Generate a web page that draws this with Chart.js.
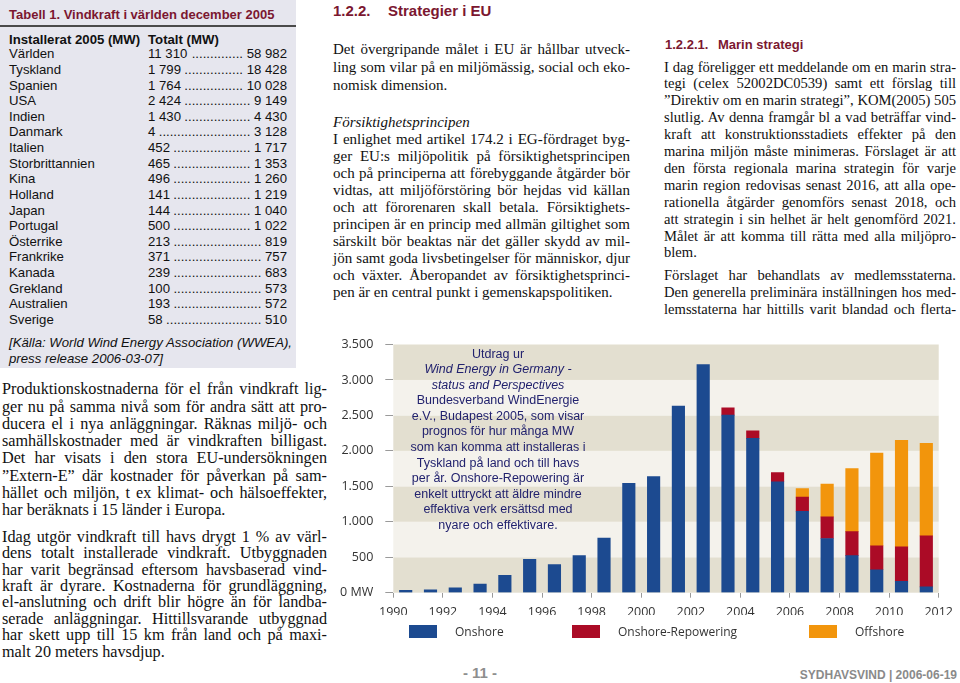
<!DOCTYPE html>
<html lang="sv">
<head>
<meta charset="utf-8">
<script src="https://cdn.jsdelivr.net/npm/chart.js@4.4.1/dist/chart.umd.min.js"></script>
<style>
  html, body { margin:0; padding:0; }
  body { width:960px; height:683px; position:relative; overflow:hidden; background:#fff; color:#111; }
  .abs { position:absolute; }
  .sans { font-family:"Liberation Sans", Arial, sans-serif; }
  .serif { font-family:"Liberation Serif", "Times New Roman", serif; }
  .box { left:0; top:0; width:296px; height:368px; background:#e6e6ee; }
  .ttl { left:9px; top:7px; font:bold 13px "Liberation Sans", Arial, sans-serif; color:#7b1730; white-space:nowrap; }
  .rule { left:0; top:25px; width:296px; height:2px; background:#4a4a4a; }
  .row { position:absolute; left:9px; width:278px; height:16px; line-height:16px; font:13.2px "Liberation Sans", Arial, sans-serif; color:#111; white-space:nowrap; }
  .row .c2 { position:absolute; left:139px; right:0; top:0; display:flex; }
  .row .dots { flex:1; overflow:hidden; direction:rtl; text-align:left; }
  .col div { white-space:nowrap; text-align:justify; text-align-last:justify; }
  .col div.l { text-align-last:left; }
  .h { font-weight:bold; color:#7b1730; white-space:nowrap; }
  #chartWrap { left:330px; top:325px; width:630px; height:300px; }
  .note { left:393px; top:346.5px; width:210px; text-align:center; font:12.5px "Liberation Sans", Arial, sans-serif; line-height:15.6px; color:#22226e; z-index:2; white-space:nowrap; }
  .lg { position:absolute; top:625px; height:13px; }
  .lgt { position:absolute; top:622px; font:12px "Open Sans", sans-serif; color:#333; line-height:19px; white-space:nowrap; }
</style>
</head>
<body>

<!-- Tabell 1 -->
<div class="abs box"></div>
<div class="abs ttl">Tabell 1. Vindkraft i världen december 2005</div>
<div class="abs rule"></div>
<div id="table"></div>
<div class="abs sans" style="left:9px;top:335px;font-size:13.2px;font-style:italic;line-height:16px;white-space:nowrap;color:#111">[Källa: World Wind Energy Association (WWEA),<br>press release 2006-03-07]</div>

<!-- Left column text -->
<div class="abs col serif" style="left:2px;width:325px;top:381.3px;font-size:16.2px;line-height:17.3px">
  <div>Produktionskostnaderna för el från vindkraft lig-</div>
  <div>ger nu på samma nivå som för andra sätt att pro-</div>
  <div>ducera el i nya anläggningar. Räknas miljö- och</div>
  <div>samhällskostnader med är vindkraften billigast.</div>
  <div>Det har visats i den stora EU-undersökningen</div>
  <div>”Extern-E” där kostnader för påverkan på sam-</div>
  <div>hället och miljön, t ex klimat- och hälsoeffekter,</div>
  <div class="l">har beräknats i 15 länder i Europa.</div>
</div>
<div class="abs col serif" style="left:2px;width:325px;top:528.8px;font-size:16.2px;line-height:16.4px">
  <div>Idag utgör vindkraft till havs drygt 1 % av värl-</div>
  <div>dens totalt installerade vindkraft. Utbyggnaden</div>
  <div>har varit begränsad eftersom havsbaserad vind-</div>
  <div>kraft är dyrare. Kostnaderna för grundläggning,</div>
  <div>el-anslutning och drift blir högre än för landba-</div>
  <div>serade anläggningar. Hittillsvarande utbyggnad</div>
  <div>har skett upp till 15 km från land och på maxi-</div>
  <div class="l">malt 20 meters havsdjup.</div>
</div>

<!-- Middle column -->
<div class="abs sans h" style="left:333px;top:2px;font-size:15px;line-height:18px">1.2.2.</div>
<div class="abs sans h" style="left:388px;top:2px;font-size:15px;line-height:18px">Strategier i EU</div>
<div class="abs col serif" style="left:333px;width:297px;top:39.5px;font-size:15px;line-height:18px">
  <div>Det övergripande målet i EU är hållbar utveck-</div>
  <div>ling som vilar på en miljömässig, social och eko-</div>
  <div class="l">nomisk dimension.</div>
</div>
<div class="abs col serif" style="left:333px;width:297px;top:113.5px;font-size:15px;line-height:17px">
  <div class="l" style="font-style:italic">Försiktighetsprincipen</div>
  <div>I enlighet med artikel 174.2 i EG-fördraget byg-</div>
  <div>ger EU:s miljöpolitik på försiktighetsprincipen</div>
  <div>och på principerna att förebyggande åtgärder bör</div>
  <div>vidtas, att miljöförstöring bör hejdas vid källan</div>
  <div>och att förorenaren skall betala. Försiktighets-</div>
  <div>principen är en princip med allmän giltighet som</div>
  <div>särskilt bör beaktas när det gäller skydd av mil-</div>
  <div>jön samt goda livsbetingelser för människor, djur</div>
  <div>och växter. Åberopandet av försiktighetsprinci-</div>
  <div class="l">pen är en central punkt i gemenskapspolitiken.</div>
</div>

<!-- Right column -->
<div class="abs sans h" style="left:665px;top:37px;font-size:13px;line-height:16px">1.2.2.1.</div>
<div class="abs sans h" style="left:718px;top:37px;font-size:13px;line-height:16px">Marin strategi</div>
<div class="abs col serif" style="left:664px;width:292px;top:58.5px;font-size:14.6px;line-height:16.9px">
  <div>I dag föreligger ett meddelande om en marin stra-</div>
  <div>tegi (celex 52002DC0539) samt ett förslag till</div>
  <div>”Direktiv om en marin strategi”, KOM(2005) 505</div>
  <div>slutlig. Av denna framgår bl a vad beträffar vind-</div>
  <div>kraft att konstruktionsstadiets effekter på den</div>
  <div>marina miljön måste minimeras. Förslaget är att</div>
  <div>den första regionala marina strategin för varje</div>
  <div>marin region redovisas senast 2016, att alla ope-</div>
  <div>rationella åtgärder genomförs senast 2018, och</div>
  <div>att strategin i sin helhet är helt genomförd 2021.</div>
  <div>Målet är att komma till rätta med alla miljöpro-</div>
  <div class="l">blem.</div>
</div>
<div class="abs col serif" style="left:664px;width:292px;top:266.5px;font-size:14.6px;line-height:17px">
  <div>Förslaget har behandlats av medlemsstaterna.</div>
  <div>Den generella preliminära inställningen hos med-</div>
  <div>lemsstaterna har hittills varit blandad och flerta-</div>
</div>

<!-- Chart -->
<div id="chartWrap" class="abs"><canvas id="c" width="630" height="300"></canvas></div>
<div class="abs note">Utdrag ur<br><i>Wind Energy in Germany -</i><br><i>status and Perspectives</i><br>Bundesverband WindEnergie<br>e.V., Budapest 2005, som visar<br>prognos för hur många MW<br>som kan komma att installeras i<br>Tyskland på land och till havs<br>per år. Onshore-Repowering är<br>enkelt uttryckt att äldre mindre<br>effektiva verk ersättsd med<br>nyare och effektivare.</div>
<div id="legend"></div>

<!-- Footer -->
<div class="abs sans" style="left:440px;width:80px;top:664px;text-align:center;font-weight:bold;font-size:15px;line-height:18px;color:#8e8e8e">- 11 -</div>
<div class="abs sans" style="right:3px;top:667px;font-weight:bold;font-size:12px;line-height:16px;color:#8a8a8a;white-space:nowrap">SYDHAVSVIND | 2006-06-19</div>

<script>
// ---------- Table data ----------
const countries = ['Världen','Tyskland','Spanien','USA','Indien','Danmark','Italien','Storbrittannien','Kina','Holland','Japan','Portugal','Österrike','Frankrike','Kanada','Grekland','Australien','Sverige'];
const installed2005 = ['11 310','1 799','1 764','2 424','1 430','4','452','465','496','141','144','500','213','371','239','100','193','58'];
const totalMW = ['58 982','18 428','10 028','9 149','4 430','3 128','1 717','1 353','1 260','1 219','1 040','1 022','819','757','683','573','572','510'];

// ---------- Chart data (MW installed per year, Germany) ----------
const years = [1990,1991,1992,1993,1994,1995,1996,1997,1998,1999,2000,2001,2002,2003,2004,2005,2006,2007,2008,2009,2010,2011];
const onshore =    [32,42,70,122,245,472,398,523,769,1542,1639,2630,3218,2505,2176,1565,1148,764,523,324,162,83];
const repowering = [null,null,null,null,null,null,null,null,null,null,null,null,null,102,107,130,199,305,338,338,486,718];
const offshore =   [null,null,null,null,null,null,null,null,null,null,null,null,null,null,null,null,121,463,889,1306,1500,1306];
const seriesNames = ['Onshore','Onshore-Repowering','Offshore'];
const seriesColors = ['#1c4a90','#ab0b26','#f2950c'];
const yMax = 3500, yStep = 500;
const xFirst = 1990, xLast = 2012, xStep = 2;

// ---------- Build table ----------
(function(){
  const t = document.getElementById('table');
  const hdr = document.createElement('div');
  hdr.className = 'row';
  hdr.style.top = '31.5px';
  hdr.style.fontWeight = 'bold';
  hdr.innerHTML = 'Installerat 2005 (MW)<span class="c2">Totalt (MW)</span>';
  t.appendChild(hdr);
  countries.forEach((c, i) => {
    const r = document.createElement('div');
    r.className = 'row';
    r.style.top = (46.3 + i * 15.63) + 'px';
    r.appendChild(document.createTextNode(c));
    const c2 = document.createElement('span');
    c2.className = 'c2';
    const a = document.createElement('span'); a.textContent = installed2005[i] + '\u00a0';
    const d = document.createElement('span'); d.className = 'dots'; d.textContent = '.'.repeat(80);
    const b = document.createElement('span'); b.textContent = '\u00a0' + totalMW[i];
    c2.appendChild(a); c2.appendChild(d); c2.appendChild(b);
    r.appendChild(c2);
    t.appendChild(r);
  });
})();

// ---------- Chart ----------
const fmtThousands = v => v >= 1000 ? Math.floor(v/1000) + '.' + String(v % 1000).padStart(3,'0') : String(v);

const bandsPlugin = {
  id: 'bands',
  beforeDatasetsDraw(chart) {
    const {ctx, chartArea, scales:{y}} = chart;
    ctx.save();
    for (let v = 0, k = 0; v < yMax; v += yStep, k++) {
      const top = y.getPixelForValue(v + yStep), bot = y.getPixelForValue(v);
      ctx.fillStyle = (k % 2 === 0) ? '#e3dfd0' : '#f4f2ec';
      ctx.fillRect(chartArea.left, top, chartArea.right - chartArea.left, bot - top);
    }
    ctx.restore();
  }
};

const series = [onshore, repowering, offshore];
const chart = new Chart(document.getElementById('c'), {
  type: 'bar',
  data: {
    datasets: series.map((arr, s) => ({
      label: seriesNames[s],
      data: years.map((yr, i) => ({ x: yr + 0.5, y: arr[i] })),
      backgroundColor: seriesColors[s],
      borderWidth: 0,
      barThickness: 12.5
    }))
  },
  options: {
    responsive: false,
    animation: false,
    devicePixelRatio: 1,
    layout: { padding: { top: 16, right: 20, left: 0, bottom: 10 } },
    plugins: { legend: { display: false }, tooltip: { enabled: false } },
    scales: {
      x: {
        type: 'linear', min: xFirst, max: xLast, stacked: true, offset: false,
        ticks: { stepSize: xStep, callback: v => String(v), autoSkip: false, maxRotation: 0,
                 font: { family: 'Open Sans', size: 12.5 }, color: '#333', padding: 7 },
        grid: { drawOnChartArea: false, drawTicks: true, tickLength: 5, color: '#9a9a9a', offset: false },
        border: { display: false },
        afterFit(s) { s.height = 22.3; }
      },
      y: {
        min: 0, max: yMax, stacked: true,
        ticks: { stepSize: yStep, callback: v => v === 0 ? '0 MW' : fmtThousands(v),
                 font: { family: 'Open Sans', size: 12.5 }, color: '#333', padding: 12 },
        grid: { drawOnChartArea: false, drawTicks: true, tickLength: 8, color: '#9a9a9a' },
        border: { display: false },
        afterFit(s) { s.width = 63.3; }
      }
    }
  },
  plugins: [bandsPlugin]
});

// ---------- HTML legend from chart datasets ----------
(function(){
  const lg = document.getElementById('legend');
  const boxLeft = [409, 572, 809];
  chart.data.datasets.forEach((ds, i) => {
    const b = document.createElement('div');
    b.className = 'lg';
    b.style.left = boxLeft[i] + 'px';
    b.style.width = '28px';
    b.style.background = ds.backgroundColor;
    lg.appendChild(b);
    const t = document.createElement('div');
    t.className = 'lgt';
    t.style.left = (boxLeft[i] + 46) + 'px';
    t.textContent = ds.label;
    lg.appendChild(t);
  });
})();
</script>
</body>
</html>
